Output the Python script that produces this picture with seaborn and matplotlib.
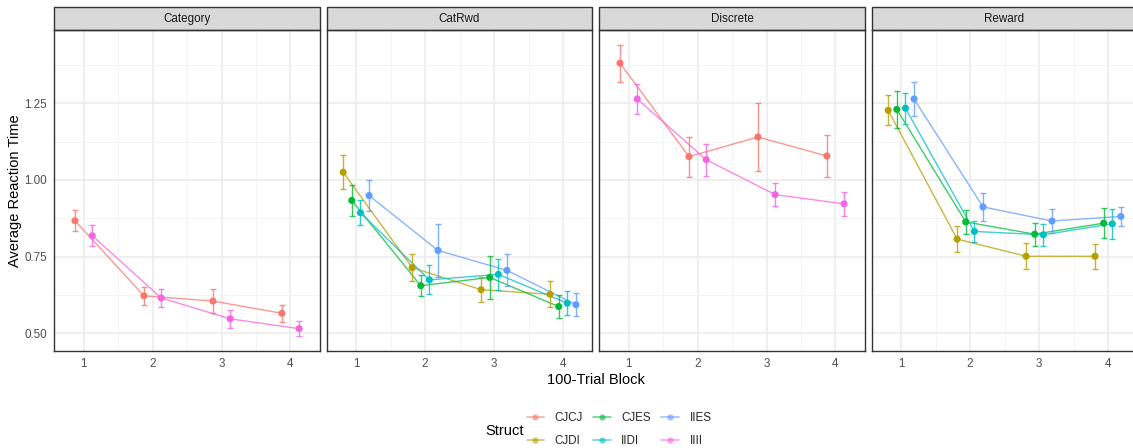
import numpy as np
import pandas as pd
import matplotlib
matplotlib.use("Agg")
import matplotlib.pyplot as plt
from matplotlib.lines import Line2D
from matplotlib.patches import Rectangle
import seaborn as sns

# values (mean RT and standard error per 100-trial block)
blocks = [1, 2, 3, 4]
tasks = ["Category", "CatRwd", "Discrete", "Reward"]
structs = ["CJCJ", "CJDI", "CJES", "IIDI", "IIES", "IIII"]
struct_colors = ["#F8766D", "#B79F00", "#00BA38", "#00BFC4", "#619CFF", "#F564E3"]

category_cjcj_rt = [0.867, 0.622, 0.605, 0.565]
category_cjcj_se = [0.035, 0.030, 0.038, 0.027]
category_iiii_rt = [0.818, 0.615, 0.547, 0.515]
category_iiii_se = [0.035, 0.028, 0.029, 0.024]

catrwd_cjdi_rt = [1.025, 0.714, 0.642, 0.627]
catrwd_cjdi_se = [0.056, 0.045, 0.040, 0.042]
catrwd_cjes_rt = [0.933, 0.655, 0.682, 0.587]
catrwd_cjes_se = [0.050, 0.035, 0.070, 0.038]
catrwd_iidi_rt = [0.893, 0.674, 0.692, 0.598]
catrwd_iidi_se = [0.040, 0.047, 0.050, 0.039]
catrwd_iies_rt = [0.949, 0.770, 0.705, 0.593]
catrwd_iies_se = [0.050, 0.087, 0.052, 0.038]

discrete_cjcj_rt = [1.381, 1.076, 1.140, 1.078]
discrete_cjcj_se = [0.060, 0.065, 0.112, 0.070]
discrete_iiii_rt = [1.264, 1.066, 0.952, 0.922]
discrete_iiii_se = [0.049, 0.052, 0.038, 0.039]

reward_cjdi_rt = [1.227, 0.807, 0.751, 0.751]
reward_cjdi_se = [0.049, 0.042, 0.042, 0.040]
reward_cjes_rt = [1.230, 0.863, 0.823, 0.859]
reward_cjes_se = [0.060, 0.039, 0.037, 0.050]
reward_iidi_rt = [1.234, 0.832, 0.821, 0.857]
reward_iidi_se = [0.050, 0.034, 0.035, 0.049]
reward_iies_rt = [1.264, 0.912, 0.866, 0.881]
reward_iies_se = [0.055, 0.046, 0.039, 0.030]

series = [
    ("Category", "CJCJ", category_cjcj_rt, category_cjcj_se),
    ("Category", "IIII", category_iiii_rt, category_iiii_se),
    ("CatRwd", "CJDI", catrwd_cjdi_rt, catrwd_cjdi_se),
    ("CatRwd", "CJES", catrwd_cjes_rt, catrwd_cjes_se),
    ("CatRwd", "IIDI", catrwd_iidi_rt, catrwd_iidi_se),
    ("CatRwd", "IIES", catrwd_iies_rt, catrwd_iies_se),
    ("Discrete", "CJCJ", discrete_cjcj_rt, discrete_cjcj_se),
    ("Discrete", "IIII", discrete_iiii_rt, discrete_iiii_se),
    ("Reward", "CJDI", reward_cjdi_rt, reward_cjdi_se),
    ("Reward", "CJES", reward_cjes_rt, reward_cjes_se),
    ("Reward", "IIDI", reward_iidi_rt, reward_iidi_se),
    ("Reward", "IIES", reward_iies_rt, reward_iies_se),
]

rows = []
for task, struct, rt, se in series:
    for b, m, s in zip(blocks, rt, se):
        rows.append({"Task": task, "Struct": struct, "Block": b, "RT": m, "SE": s})
df = pd.DataFrame(rows)

palette = dict(zip(structs, struct_colors))

sns.set_style("white")
plt.rcParams["font.family"] = ["Liberation Sans", "DejaVu Sans"]

DODGE = 0.5


def draw_panel(data, **kws):
    ax = plt.gca()
    present = [s for s in structs if s in set(data["Struct"])]
    n = len(present)
    for i, s in enumerate(present):
        d = data[data["Struct"] == s].sort_values("Block")
        off = (i - (n - 1) / 2) * DODGE / n
        xs = d["Block"].to_numpy() + off
        c = palette[s]
        sns.lineplot(x=xs, y=d["RT"].to_numpy(), color=c, lw=1.0, alpha=0.75,
                     sort=False, ax=ax, zorder=2)
        ax.errorbar(xs, d["RT"], yerr=d["SE"], fmt="none", ecolor=c, elinewidth=1.0,
                    capsize=2.5, capthick=1.0, alpha=0.8, zorder=3)
        sns.scatterplot(x=xs, y=d["RT"].to_numpy(), color=c, s=26, edgecolor="none",
                        ax=ax, zorder=4)


g = sns.FacetGrid(df, col="Task", col_order=tasks, sharex=True, sharey=True,
                  despine=False, height=4, aspect=0.6)
g.map_dataframe(draw_panel)
g.set_titles(col_template="")
g.set_axis_labels("", "")

fig = g.figure
fig.set_size_inches(11.33, 4.48)
fig.set_dpi(100)

W, H = 1133.0, 448.0
left0, pw, gap = 54.3, 265.5, 7.0
top, bottom = 30.0, 350.7
strip_h = 22.7

for k, (ax, task) in enumerate(zip(g.axes.flat, tasks)):
    x0 = left0 + k * (pw + gap)
    ax.set_position([x0 / W, 1 - bottom / H, pw / W, (bottom - top) / H])
    ax.set_xlim(0.575, 4.425)
    ax.set_ylim(0.443, 1.489)
    ax.set_xticks(blocks)
    ax.set_xticks([1.5, 2.5, 3.5], minor=True)
    ax.set_yticks([0.5, 0.75, 1.0, 1.25])
    ax.set_yticks([0.625, 0.875, 1.125, 1.375], minor=True)
    ax.set_yticklabels(["0.50", "0.75", "1.00", "1.25"])
    ax.grid(which="major", color="#EBEBEB", lw=1.1)
    ax.grid(which="minor", color="#F2F2F2", lw=0.6)
    ax.set_axisbelow(True)
    for sp in ax.spines.values():
        sp.set_color("#333333")
        sp.set_linewidth(1.0)
    ax.tick_params(which="major", length=2.75, width=0.8, color="#333333",
                   labelcolor="#4D4D4D", labelsize=8.4, pad=2.3)
    ax.tick_params(which="minor", length=0)
    if k > 0:
        ax.tick_params(axis="y", left=False, labelleft=False)
    ax.set_xlabel("")
    ax.set_ylabel("")
    # facet strip
    sh = strip_h / (bottom - top)
    ax.add_patch(Rectangle((0, 1), 1, sh, transform=ax.transAxes, clip_on=False,
                           facecolor="#D9D9D9", edgecolor="#333333", lw=1.0))
    ax.text(0.5, 1 + sh / 2, task, transform=ax.transAxes, ha="center", va="center",
            fontsize=8.4, color="#1A1A1A")

fig.text(15.5 / W, 1 - ((top + bottom) / 2) / H, "Average Reaction Time", rotation=90,
         ha="center", va="center", fontsize=10.5, color="black")
fig.text((left0 + 4 * pw + 3 * gap + left0) / 2 / W, 1 - 380 / H, "100-Trial Block",
         ha="center", va="center", fontsize=10.5, color="black")

handles = [Line2D([0], [0], color=palette[s], lw=1.2, alpha=0.6, marker="o",
                  markersize=4.5, markerfacecolor=palette[s], markeredgecolor="none")
           for s in structs]
fig.legend(handles, structs, ncol=3, loc="center", bbox_to_anchor=(619 / W, 1 - 429.5 / H),
           frameon=False, fontsize=8.4, handlelength=1.5, handletextpad=0.9,
           columnspacing=0.9, labelspacing=0.95)
fig.text(485 / W, 1 - 431 / H, "Struct", ha="left", va="center", fontsize=10.5,
         color="black")

fig.savefig("out.png", dpi=100)
